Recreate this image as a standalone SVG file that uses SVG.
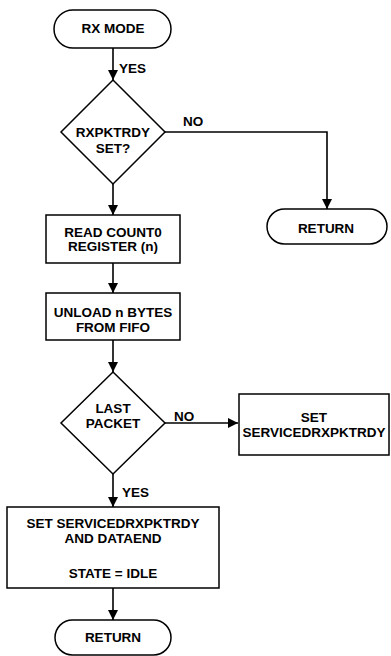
<svg xmlns="http://www.w3.org/2000/svg" width="391" height="656" viewBox="0 0 391 656">
<style>
.s{fill:#fff;stroke:#000;stroke-width:1.5}
.c{fill:none;stroke:#000;stroke-width:1.6}
text{font-family:"Liberation Sans",Arial,sans-serif;font-weight:bold;font-size:13.5px;fill:#000}
.m{text-anchor:middle}
</style>
<defs>
<marker id="a" markerUnits="userSpaceOnUse" markerWidth="10" markerHeight="12" refX="10" refY="5" orient="auto">
<path d="M0,0 L10,5 L0,10 Z" fill="#000"/>
</marker>
</defs>
<g id="connectors">
<line class="c" x1="113" y1="48" x2="113" y2="80" marker-end="url(#a)"/>
<polyline class="c" points="165,132 327,132 327,209" marker-end="url(#a)"/>
<line class="c" x1="113" y1="184" x2="113" y2="215" marker-end="url(#a)"/>
<line class="c" x1="113" y1="263" x2="113" y2="293" marker-end="url(#a)"/>
<line class="c" x1="113" y1="340" x2="113" y2="372" marker-end="url(#a)"/>
<line class="c" x1="165" y1="423" x2="238" y2="423" marker-end="url(#a)"/>
<line class="c" x1="113" y1="474" x2="113" y2="507" marker-end="url(#a)"/>
<line class="c" x1="113" y1="588" x2="113" y2="620" marker-end="url(#a)"/>
<text x="119" y="73">YES</text>
<text x="183" y="126">NO</text>
<text x="174" y="421">NO</text>
<text x="122" y="497">YES</text>
</g>
<g id="rxmode">
<rect class="s" x="54" y="10" width="117" height="38" rx="19"/>
<text class="m" x="113" y="33">RX MODE</text>
</g>
<g id="rxpktrdy">
<polygon class="s" points="113,80 165,132 113,184 61,132"/>
<text class="m" x="113" y="137">RXPKTRDY</text>
<text class="m" x="113" y="153">SET?</text>
</g>
<g id="return1">
<rect class="s" x="267" y="209" width="120" height="35" rx="17.5"/>
<text class="m" x="326" y="233">RETURN</text>
</g>
<g id="readcount">
<rect class="s" x="46" y="215" width="134" height="48"/>
<text class="m" x="113" y="237">READ COUNT0</text>
<text class="m" x="113" y="251">REGISTER (n)</text>
</g>
<g id="unload">
<rect class="s" x="46" y="293" width="134" height="47"/>
<text class="m" x="113" y="317">UNLOAD n BYTES</text>
<text class="m" x="113" y="332">FROM FIFO</text>
</g>
<g id="lastpacket">
<polygon class="s" points="113,372 165,423 113,474 61,423"/>
<text class="m" x="113" y="413">LAST</text>
<text class="m" x="113" y="428">PACKET</text>
</g>
<g id="setservice">
<rect class="s" x="239" y="394" width="150" height="61"/>
<text class="m" x="314" y="422">SET</text>
<text class="m" x="314" y="437">SERVICEDRXPKTRDY</text>
</g>
<g id="setall">
<rect class="s" x="7" y="507" width="212" height="81"/>
<text class="m" x="113" y="528">SET SERVICEDRXPKTRDY</text>
<text class="m" x="113" y="543">AND DATAEND</text>
<text class="m" x="113" y="578">STATE = IDLE</text>
</g>
<g id="return2">
<rect class="s" x="55" y="620" width="116" height="35" rx="17.5"/>
<text class="m" x="113" y="642">RETURN</text>
</g>
</svg>
